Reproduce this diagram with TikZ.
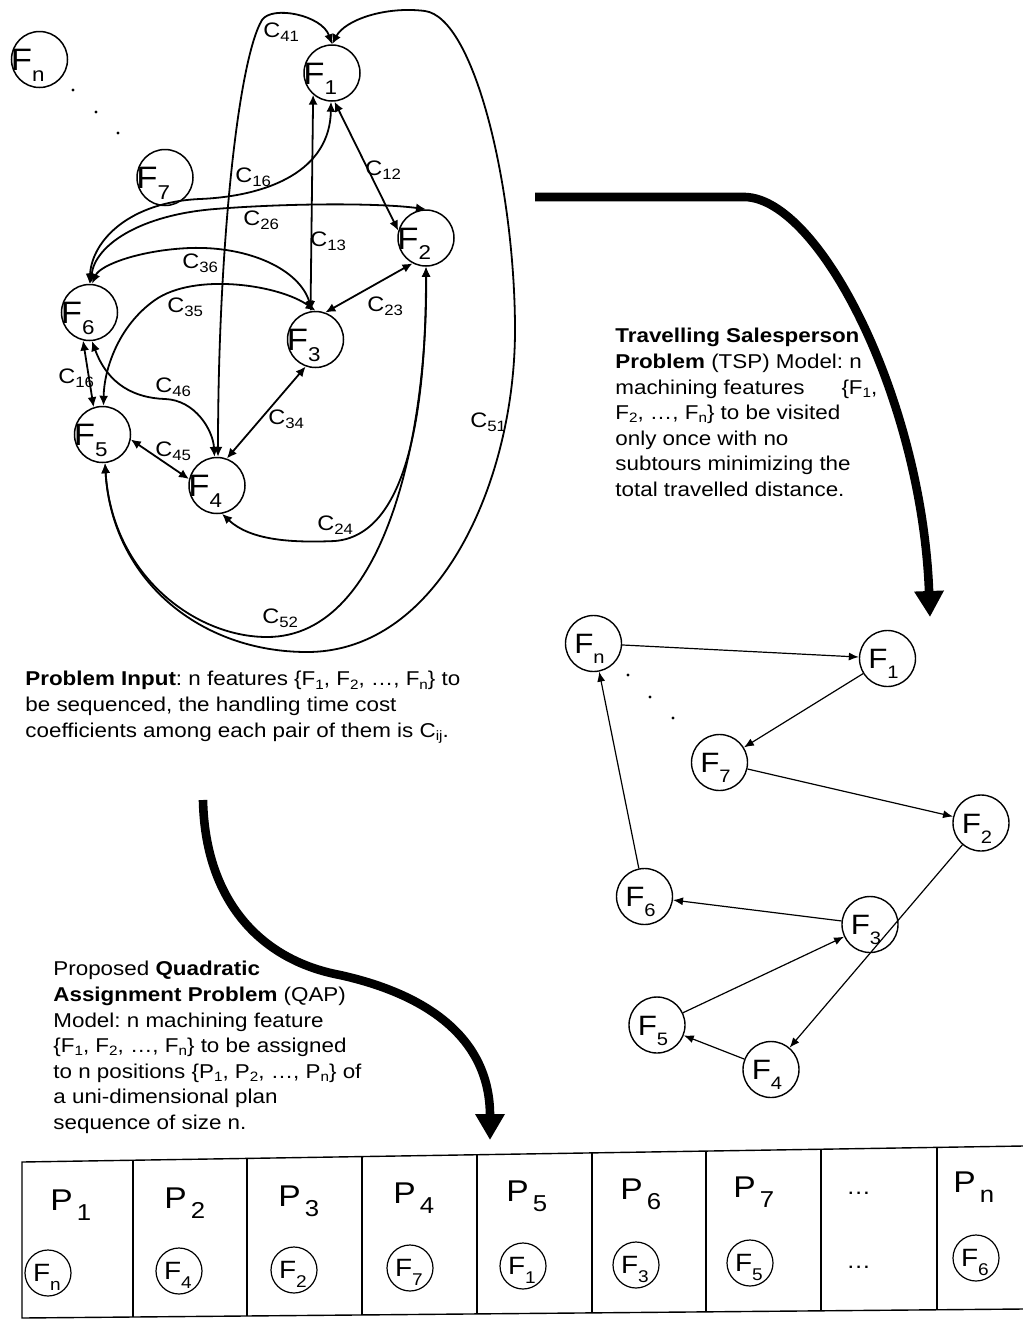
\documentclass[tikz,border=0pt]{standalone}
\usepackage{fontspec}
\setmainfont[FakeStretch=1.12]{Liberation Sans}
\usetikzlibrary{arrows.meta}

\newcommand{\putlab}[3]{\makebox[0pt][l]{\kern#1\raisebox{#2}[0pt][0pt]{#3}}}
\newcommand{\FT}[1]{\putlab{-14.3pt}{-5.5pt}{\fontsize{15.5}{16}\selectfont F\raisebox{-5.3pt}{\fontsize{10}{10}\selectfont #1}}}
\newcommand{\FM}[1]{\putlab{-9.6pt}{-5pt}{\fontsize{14}{14}\selectfont F\raisebox{-5pt}{\fontsize{9}{9}\selectfont #1}}}
\newcommand{\FS}[1]{\putlab{-7.5pt}{-4pt}{\fontsize{12.5}{12}\selectfont F\raisebox{-4.5pt}{\fontsize{8.5}{8}\selectfont #1}}}
\newcommand{\CC}[1]{{\fontsize{10.5}{11}\selectfont C\raisebox{-2pt}{\fontsize{7.5}{8}\selectfont #1}}}
\newcommand{\PP}[1]{{\fontsize{15}{15}\selectfont P\kern2pt\raisebox{-5pt}{\fontsize{11.5}{12}\selectfont #1}}}
\newcommand{\tsub}[1]{\raisebox{-1.6pt}{\fontsize{6.8}{7}\selectfont #1}}

\begin{document}
\frenchspacing
\begin{tikzpicture}[x=0.5pt,y=-0.5pt,
  tf/.style={circle, draw, line width=0.75pt, minimum size=28pt, inner sep=0pt},
  mf/.style={circle, draw, line width=0.7pt, minimum size=28pt, inner sep=0pt},
  sf/.style={circle, draw, line width=0.6pt, minimum size=23pt, inner sep=0pt},
  cedge/.style={line width=0.9pt, {Latex[length=5pt,width=4.5pt]}-{Latex[length=5pt,width=4.5pt]}},
  sarrow/.style={line width=0.6pt, -{Latex[length=5pt,width=4pt]}},
  bigarrow/.style={line width=4.3pt, -{Triangle[length=13pt,width=14pt]}},
  clab/.style={anchor=base west, inner sep=0pt},
  txt/.style={font=\fontsize{10}{12.8}\selectfont, align=left, inner sep=0pt, anchor=north west},
  plab/.style={anchor=base west, inner sep=0pt},
  dotsty/.style={fill=black},
  tline/.style={line width=0.7pt}
]
\useasboundingbox (0,0) rectangle (1023,1323);

% ---------------- top graph: nodes ----------------
\node[tf] (tn) at (39.5,59.5) {\FT{n}};
\node[tf] (t1) at (332,73) {\FT{1}};
\node[tf] (t7) at (165,177.5) {\FT{7}};
\node[tf] (t2) at (426,238) {\FT{2}};
\node[tf] (t6) at (89.5,312.5) {\FT{6}};
\node[tf] (t3) at (315.5,339.5) {\FT{3}};
\node[tf] (t5) at (102.5,434.5) {\FT{5}};
\node[tf] (t4) at (217,485.5) {\FT{4}};

\fill[dotsty] (73,90) circle[radius=0.8pt];
\fill[dotsty] (96,112) circle[radius=0.8pt];
\fill[dotsty] (118,133) circle[radius=0.8pt];

% ---------------- top graph: edges ----------------
% C41
\draw[cedge] (t4.88) .. controls (218,250) and (238,60) .. (262,20)
   .. controls (272,5) and (322,15) .. (t1.north);
% C51
\draw[cedge] (t5.-85) .. controls (112,580) and (200,652) .. (307,652)
   .. controls (440,652) and (515,480) .. (515,330)
   .. controls (515,190) and (475,18) .. (425,11)
   .. controls (385,6) and (345,20) .. (t1.north);
% C52
\draw[cedge] (t5.-85) .. controls (112,575) and (195,637) .. (267,637)
   .. controls (390,637) and (428,420) .. (t2.south);
% C24
\draw[cedge] (t4.-80) .. controls (250,540) and (290,543) .. (335,541)
   .. controls (405,535) and (426,420) .. (t2.south);
% C12
\draw[cedge] (t1.-85) -- (t2.165);
% C13
\draw[cedge] (t1.-131) -- (t3.100);
% C16 (F1-F6)
\draw[cedge] (t1.-92) .. controls (330,170) and (270,196) .. (200,199)
   .. controls (130,202) and (92,240) .. (t6.north);
% C26
\draw[cedge] (t2.north) .. controls (380,203) and (290,203) .. (215,209)
   .. controls (140,215) and (95,245) .. (t6.88);
% C36
\draw[cedge] (t3.97) .. controls (300,270) and (250,246) .. (190,248)
   .. controls (140,250) and (100,265) .. (t6.85);
% C35
\draw[cedge] (t3.90) .. controls (280,285) and (195,272) .. (155,300)
   .. controls (118,326) and (104,370) .. (t5.88);
% C23
\draw[cedge] (t2.-118) -- (t3.70);
% C16 (F6-F5)
\draw[cedge] (t6.-103) -- (t5.108);
% C46
\draw[cedge] (t6.-85) .. controls (108,385) and (135,398) .. (165,399)
   .. controls (195,400) and (213,430) .. (t4.95);
% C34
\draw[cedge] (t3.-110) -- (t4.70);
% C45
\draw[cedge] (t5.-10) -- (t4.167);

% edge labels
\node[clab] (l41) at (263,37) {\CC{41}};
\node[clab] (l16a) at (235,182) {\CC{16}};
\node[clab] (l12) at (365,175) {\CC{12}};
\node[clab] (l26) at (243,225) {\CC{26}};
\node[clab] (l13) at (310,246) {\CC{13}};
\node[clab] (l36) at (182,268) {\CC{36}};
\node[clab] (l35) at (167,312) {\CC{35}};
\node[clab] (l23) at (367,311) {\CC{23}};
\node[clab] (l16b) at (58,383) {\CC{16}};
\node[clab] (l46) at (155,392) {\CC{46}};
\node[clab] (l34) at (268,424) {\CC{34}};
\node[clab] (l45) at (155,456) {\CC{45}};
\node[clab] (l51) at (470,427) {\CC{51}};
\node[clab] (l24) at (317,530) {\CC{24}};
\node[clab] (l52) at (262,623) {\CC{52}};

% ---------------- texts ----------------
\node[txt] (inp) at (25,671) {\textbf{Problem Input}: n features \{F\tsub{1}, F\tsub{2}, …, F\tsub{n}\} to\\
be sequenced, the handling time cost\\
coefficients among each pair of them is C\tsub{ij}.};

\node[txt] (tsp) at (615,328) {\textbf{Travelling Salesperson}\\
\textbf{Problem} (TSP) Model: n\\
\makebox[131pt][l]{machining features\hfill\{F\tsub{1},}\\
F\tsub{2}, …, F\tsub{n}\} to be visited\\
only once with no\\
subtours minimizing the\\
total travelled distance.};

\node[txt] (qap) at (53,961) {Proposed \textbf{Quadratic}\\
\textbf{Assignment Problem} (QAP)\\
Model: n machining feature\\
\{F\tsub{1}, F\tsub{2}, …, F\tsub{n}\} to be assigned\\
to n positions \{P\tsub{1}, P\tsub{2}, …, P\tsub{n}\} of\\
a uni-dimensional plan\\
sequence of size n.};

% ---------------- big arrows ----------------
\coordinate (a1s) at (535,197);
\coordinate (a1e) at (930,617);
\draw[bigarrow] (a1s) -- (745,197) .. controls (820,199) and (922,400) .. (a1e);
\coordinate (a2s) at (203,800);
\coordinate (a2e) at (490,1140);
\draw[bigarrow] (a2s) .. controls (205,900) and (260,960) .. (340,975)
   .. controls (430,995) and (490,1040) .. (a2e);

% ---------------- TSP graph ----------------
\node[mf] (sn) at (593.5,643.5) {\FM{n}};
\node[mf] (s1) at (887.5,658.5) {\FM{1}};
\node[mf] (s7) at (719.5,762.5) {\FM{7}};
\node[mf] (s2) at (981,823) {\FM{2}};
\node[mf] (s6) at (644.5,896.5) {\FM{6}};
\node[mf] (s3) at (870,924.5) {\FM{3}};
\node[mf] (s5) at (657,1025) {\FM{5}};
\node[mf] (s4) at (771,1069.5) {\FM{4}};
\fill[dotsty] (628,675) circle[radius=0.8pt];
\fill[dotsty] (650,697) circle[radius=0.8pt];
\fill[dotsty] (673,718) circle[radius=0.8pt];
\draw[sarrow] (sn) -- (s1);
\draw[sarrow] (s1) -- (s7);
\draw[sarrow] (s7) -- (s2);
\draw[sarrow] (s2) -- (s4);
\draw[sarrow] (s4) -- (s5);
\draw[sarrow] (s5) -- (s3);
\draw[sarrow] (s3) -- (s6);
\draw[sarrow] (s6) -- (sn);

% ---------------- bottom table ----------------
\draw[tline] (1023,1146) -- (22,1162) -- (22,1318) -- (1023,1309);
\foreach \xx/\ya/\yb in {133/1160.2/1317, 247/1158.4/1316, 362/1156.6/1315,
   477/1154.7/1314, 592/1152.9/1312.9, 706/1151.1/1311.9, 821/1149.2/1310.8,
   937/1147.4/1309.8}
  \draw[tline] (\xx,\ya) -- (\xx,\yb);

\node[plab] (p1) at (50,1210) {\PP{1}};
\node[plab] (p2) at (164,1208) {\PP{2}};
\node[plab] (p3) at (278,1206) {\PP{3}};
\node[plab] (p4) at (393,1203) {\PP{4}};
\node[plab] (p5) at (506,1201) {\PP{5}};
\node[plab] (p6) at (620,1199) {\PP{6}};
\node[plab] (p7) at (733,1197) {\PP{7}};
\node[plab] (p8) at (846,1194) {\fontsize{11}{11}\selectfont …};
\node[plab] (p9) at (953,1192) {\PP{n}};

\node[sf] (b1) at (48,1273) {\FS{n}};
\node[sf] (b2) at (179,1271) {\FS{4}};
\node[sf] (b3) at (294,1270) {\FS{2}};
\node[sf] (b4) at (410,1268) {\FS{7}};
\node[sf] (b5) at (523,1266) {\FS{1}};
\node[sf] (b6) at (636,1265) {\FS{3}};
\node[sf] (b7) at (750,1263) {\FS{5}};
\node[plab] (b8) at (846,1268) {\fontsize{11}{11}\selectfont …};
\node[sf] (b9) at (976,1258) {\FS{6}};
\end{tikzpicture}
\end{document}
